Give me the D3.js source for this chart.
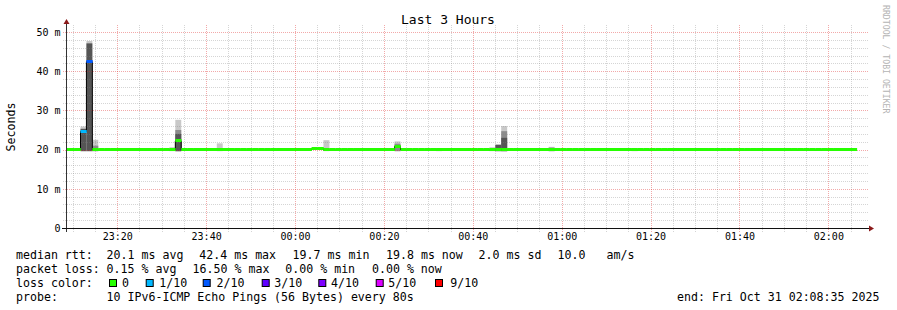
<!DOCTYPE html>
<html>
<head>
<meta charset="utf-8">
<script src="https://cdn.jsdelivr.net/npm/d3@7"></script>
<style>
  body { margin: 0; background: #fff; }
  text { font-family: "DejaVu Sans Mono", monospace; fill: #000; }
</style>
</head>
<body>
<svg id="chart" width="897" height="310"></svg>
<script>
const title = 'Last 3 Hours'
const yTitle = 'Seconds'
const watermark = 'RRDTOOL / TOBI OETIKER'
const graphStart = '2025-10-30 23:08:35'
const graphEnd = '2025-10-31 02:08:35'
const stepSeconds = 80
const seriesStart = '2025-10-30 23:07:44'
const seriesEnd = '2025-10-31 02:06:24'

// median rtt (ms) on the flat stretches, each run lasts until the next one
const runFrom = ['2025-10-30 23:07:44', '2025-10-31 00:03:44', '2025-10-31 00:06:24']
const runMedian = [19.9, 20.3, 19.9]
const smokeMin = 19.6

// steps that stand out from the flat line
const spikeAt = [
  '2025-10-30 23:11:44', '2025-10-30 23:13:04', '2025-10-30 23:14:24',
  '2025-10-30 23:31:44', '2025-10-30 23:33:04', '2025-10-30 23:42:24',
  '2025-10-31 00:06:24', '2025-10-31 00:22:24', '2025-10-31 00:31:44',
  '2025-10-31 00:43:44', '2025-10-31 00:45:04', '2025-10-31 00:46:24',
  '2025-10-31 00:57:04', '2025-10-31 01:15:44'
]
const spikeMedian = [24.6, 42.4, 19.9, 19.9, 22.2, 19.9, 19.9, 20.8, 19.9, 19.9, 19.9, 19.9, 19.9, 19.9]
const spikeLoss = [1, 2, 0, 0, 0, 0, 0, 0, 0, 0, 0, 0, 0, 0]
const smokeLight = [25.9, 47.7, 22.5, 20.6, 27.6, 21.6, 22.4, 22.1, 20.3, 20.6, 21.4, 26.0, 20.7, 20.4]
const smokeMid = [null, null, 21.0, null, 25.0, null, null, 21.5, null, null, null, 24.7, 20.5, null]
const smokeDark = [25.3, 47.1, null, null, 24.0, null, null, null, null, null, 21.2, 23.0, null, null]

// legend
const rttLabel = 'median rtt:'
const rttStats = ['20.1 ms avg', '42.4 ms max', '19.7 ms min', '19.8 ms now', '2.0 ms sd', '10.0', 'am/s']
const lossLabel = 'packet loss:'
const lossStats = ['0.15 % avg', '16.50 % max', '0.00 % min', '0.00 % now']
const colorLabel = 'loss color:'
const lossNames = ['0', '1/10', '2/10', '3/10', '4/10', '5/10', '9/10']
const lossColors = ['#26ff00', '#00b8ff', '#0059ff', '#5e00ff', '#7e00ff', '#dd00ff', '#ff0000']
const probeLabel = 'probe:'
const probeText = '10 IPv6-ICMP Echo Pings (56 Bytes) every 80s'
const endText = 'end: Fri Oct 31 02:08:35 2025'

const parse = d3.timeParse('%Y-%m-%d %H:%M:%S')
const svg = d3.select('#chart')

const x = d3.scaleTime().domain([parse(graphStart), parse(graphEnd)]).range([66.5, 866.5])
const y = d3.scaleLinear().domain([0, 50]).range([228, 32])

// one record per 80 s step
const runTimes = runFrom.map(parse)
const spikeTimes = spikeAt.map(s => +parse(s))
const steps = []
for (let t = parse(seriesStart); t < parse(seriesEnd); t = d3.timeSecond.offset(t, stepSeconds)) {
  const r = d3.bisectRight(runTimes, t) - 1
  const d = { t, t2: d3.timeSecond.offset(t, stepSeconds), median: runMedian[r], loss: 0, light: null, mid: null, dark: null }
  const i = spikeTimes.indexOf(+t)
  if (i >= 0) {
    d.median = spikeMedian[i]
    d.loss = spikeLoss[i]
    d.light = smokeLight[i]
    d.mid = smokeMid[i]
    d.dark = smokeDark[i]
  }
  steps.push(d)
}

svg.append('clipPath').attr('id', 'plot')
  .append('rect').attr('x', 66.5).attr('y', 20).attr('width', 800).attr('height', 208)

// smoke
const smoke = svg.append('g').attr('clip-path', 'url(#plot)')
const bands = [['light', '#c8c8c8'], ['mid', '#8c8c8c'], ['dark', '#555555']]
bands.forEach(([key, color]) => {
  smoke.selectAll('rect.' + key)
    .data(steps.filter(d => d[key] != null))
    .join('rect')
      .attr('class', key)
      .attr('x', d => x(d.t))
      .attr('width', d => x(d.t2) - x(d.t))
      .attr('y', d => y(d[key]))
      .attr('height', d => y(smokeMin) - y(d[key]))
      .attr('fill', color)
})

// grid
const grid = svg.append('g')
const minorY = d3.range(0, 51, 2).filter(v => v % 10 !== 0)
const majorY = d3.range(0, 51, 10)
const minorX = d3.timeMinute.every(5).range(x.domain()[0], x.domain()[1]).filter(t => t.getMinutes() % 20 !== 0)
const majorX = d3.timeMinute.every(20).range(x.domain()[0], x.domain()[1])
const minorColor = 'rgba(128,128,128,0.33)'
const majorColor = 'rgba(225,50,50,0.42)'

grid.selectAll('line.hmin').data(minorY).join('line')
  .attr('x1', 63).attr('x2', 869)
  .attr('y1', d => Math.round(y(d)) + 0.5).attr('y2', d => Math.round(y(d)) + 0.5)
  .attr('stroke', minorColor).attr('stroke-dasharray', '1,1')
grid.selectAll('line.vmin').data(minorX).join('line')
  .attr('y1', 232).attr('y2', 25)
  .attr('x1', d => Math.round(x(d)) + 0.5).attr('x2', d => Math.round(x(d)) + 0.5)
  .attr('stroke', minorColor).attr('stroke-dasharray', '1,1')
grid.selectAll('line.hmaj').data(majorY.slice(1)).join('line')
  .attr('x1', 63).attr('x2', 869)
  .attr('y1', d => Math.round(y(d)) + 0.5).attr('y2', d => Math.round(y(d)) + 0.5)
  .attr('stroke', majorColor).attr('stroke-dasharray', '1,1')
grid.selectAll('line.vmaj').data(majorX).join('line')
  .attr('y1', 232).attr('y2', 25)
  .attr('x1', d => Math.round(x(d)) + 0.5).attr('x2', d => Math.round(x(d)) + 0.5)
  .attr('stroke', majorColor).attr('stroke-dasharray', '1,1')

// median: thin dark trace, then a loss coloured band on every step
const pts = steps.flatMap(d => [{ t: d.t, v: d.median }, { t: d.t2, v: d.median }])
const lines = svg.append('g').attr('clip-path', 'url(#plot)')
lines.append('path')
  .attr('d', d3.line().x(d => x(d.t)).y(d => y(d.v))(pts))
  .attr('fill', 'none').attr('stroke', '#000').attr('stroke-width', 1)

const halfBand = 0.4
lines.selectAll('rect.med').data(steps).join('rect').attr('class', 'med')
  .attr('x', d => x(d.t))
  .attr('width', d => x(d.t2) - x(d.t) + 0.3)
  .attr('y', d => Math.round(y(d.median + halfBand)))
  .attr('height', 3)
  .attr('fill', d => lossColors[d.loss])

// axes
svg.append('line').attr('x1', 66.5).attr('x2', 66.5).attr('y1', 232).attr('y2', 23)
  .attr('stroke', '#333')
svg.append('line').attr('x1', 62).attr('x2', 870).attr('y1', 228.5).attr('y2', 228.5)
  .attr('stroke', '#111')
svg.append('path').attr('d', 'M63.5,24 L69.5,24 L66.5,19 Z').attr('fill', '#8b1a1a')
svg.append('path').attr('d', 'M869,225.5 L869,231.5 L874,228.5 Z').attr('fill', '#8b1a1a')

const yAxis = svg.append('g').attr('transform', 'translate(60.5,0)')
  .call(d3.axisLeft(y).tickValues(majorY).tickSize(0).tickPadding(0)
    .tickFormat(v => v === 0 ? '0' : v + ' m'))
yAxis.select('.domain').remove()
yAxis.selectAll('text').style('font-family', '"DejaVu Sans Mono", monospace').style('font-size', '10px').attr('fill', '#000')

const xAxis = svg.append('g').attr('transform', 'translate(0,233)')
  .call(d3.axisBottom(x).tickValues(majorX).tickSize(0).tickPadding(0)
    .tickFormat(d3.timeFormat('%H:%M')))
xAxis.select('.domain').remove()
xAxis.selectAll('text').style('font-family', '"DejaVu Sans Mono", monospace').style('font-size', '10px').attr('fill', '#000')

// titles
svg.append('text').attr('x', 448).attr('y', 24).attr('text-anchor', 'middle')
  .style('font-size', '13px').text(title)
svg.append('text').attr('transform', 'translate(15,127) rotate(-90)').attr('text-anchor', 'middle')
  .style('font-size', '11.6px').text(yTitle)
svg.append('text').attr('transform', 'translate(883,5) rotate(90)')
  .style('font-size', '8.2px').style('fill', '#b4b4b4').text(watermark)

// legend
const leg = svg.append('g').style('font-size', '11.6px')
const row = [258.5, 272.5, 286.5, 300.5]
const rttX = [106.6, 199.3, 292.6, 386, 478.6, 557.6, 606.6]
const lossX = [106.6, 192.6, 285.3, 372]
const swatchX = [109, 145.7, 202.7, 261.7, 318.3, 375.7, 435]
const nameX = [122, 159.3, 216.6, 274.3, 331, 388.3, 450.3]

leg.append('text').attr('x', 16).attr('y', row[0]).text(rttLabel)
leg.selectAll('text.rtt').data(rttStats).join('text').attr('class', 'rtt')
  .attr('x', (d, i) => rttX[i]).attr('y', row[0]).text(d => d)

leg.append('text').attr('x', 16).attr('y', row[1]).text(lossLabel)
leg.selectAll('text.loss').data(lossStats).join('text').attr('class', 'loss')
  .attr('x', (d, i) => lossX[i]).attr('y', row[1]).text(d => d)

leg.append('text').attr('x', 16).attr('y', row[2]).text(colorLabel)
leg.selectAll('rect.sw').data(lossColors).join('rect').attr('class', 'sw')
  .attr('x', (d, i) => swatchX[i] + 0.5).attr('y', 279.5).attr('width', 7).attr('height', 7)
  .attr('fill', d => d).attr('stroke', '#000')
leg.selectAll('text.ln').data(lossNames).join('text').attr('class', 'ln')
  .attr('x', (d, i) => nameX[i]).attr('y', row[2]).text(d => d)

leg.append('text').attr('x', 16).attr('y', row[3]).text(probeLabel)
leg.append('text').attr('x', 106.6).attr('y', row[3]).text(probeText)
leg.append('text').attr('x', 677).attr('y', row[3]).text(endText)
</script>
</body>
</html>
